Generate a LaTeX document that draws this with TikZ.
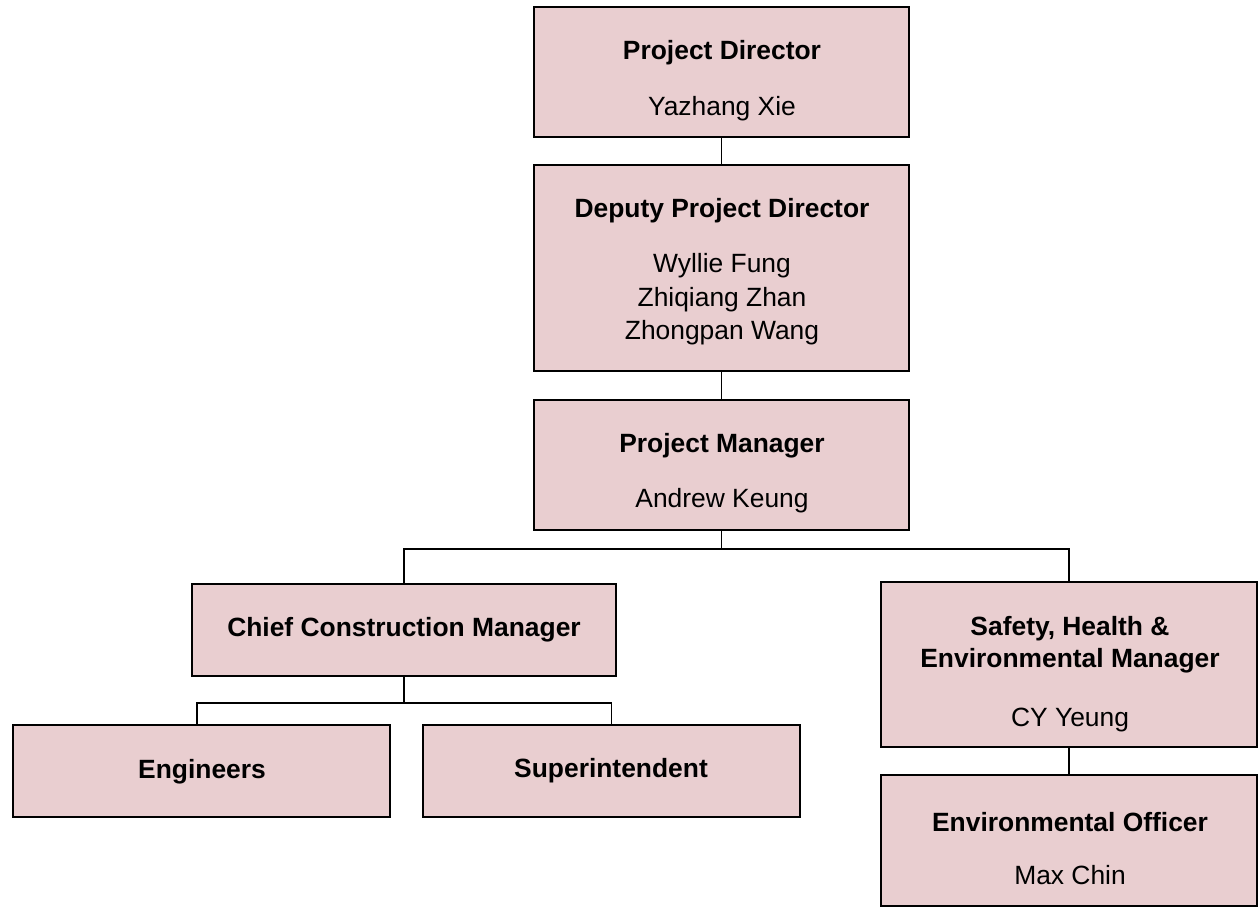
\documentclass[tikz,border=0pt]{standalone}
\usepackage{fontspec}
\setmainfont{Liberation Sans}
\definecolor{boxfill}{RGB}{233,206,208}
\begin{document}
\begin{tikzpicture}[x=0.75pt,y=-0.75pt,
  orgbox/.style={draw=black,fill=boxfill,line width=1.4pt,inner sep=0pt,rectangle},
  conn/.style={draw=black,line width=1.4pt},
  ttl/.style={anchor=base,inner sep=0pt,font=\fontsize{19.8}{25}\selectfont\bfseries},
  nm/.style={anchor=base,inner sep=0pt,font=\fontsize{19.8}{25}\selectfont}]
\useasboundingbox[fill=white] (0,0) rectangle (1259,910);

% boxes
\node[orgbox,minimum width=281.25pt,minimum height=97.5pt] (pd) at (721.5,72) {};
\node[orgbox,minimum width=281.25pt,minimum height=154.5pt] (dpd) at (721.5,268) {};
\node[orgbox,minimum width=281.25pt,minimum height=97.5pt] (pm) at (721.5,465) {};
\node[orgbox,minimum width=318pt,minimum height=69pt] (ccm) at (404,630) {};
\node[orgbox,minimum width=282pt,minimum height=123.75pt] (shem) at (1069,664.5) {};
\node[orgbox,minimum width=282.75pt,minimum height=69pt] (eng) at (201.5,771) {};
\node[orgbox,minimum width=282.75pt,minimum height=69pt] (sup) at (611.5,771) {};
\node[orgbox,minimum width=282pt,minimum height=98.25pt] (eo) at (1069,840.5) {};

% texts
\node[ttl] (pdt) at (722,59) {Project Director};
\node[nm] (pdn) at (722,115) {Yazhang Xie};
\node[ttl] (dpdt) at (722,217) {Deputy Project Director};
\node[nm] (dpdn1) at (722,272) {Wyllie Fung};
\node[nm] (dpdn2) at (722,306) {Zhiqiang Zhan};
\node[nm] (dpdn3) at (722,339) {Zhongpan Wang};
\node[ttl] (pmt) at (722,452) {Project Manager};
\node[nm] (pmn) at (722,507) {Andrew Keung};
\node[ttl] (ccmt) at (404,636) {Chief Construction Manager};
\node[ttl] (engt) at (202,778) {Engineers};
\node[ttl] (supt) at (611,777) {Superintendent};
\node[ttl] (shemt1) at (1070,635) {Safety, Health \&};
\node[ttl] (shemt2) at (1070,667) {Environmental Manager};
\node[nm] (shemn) at (1070,726) {CY Yeung};
\node[ttl] (eot) at (1070,831) {Environmental Officer};
\node[nm] (eon) at (1070,884) {Max Chin};

% connectors
\coordinate (j1) at (721.5,549);
\coordinate (j2) at (404,703);
\draw[conn] (pd.south) -- (dpd.north);
\draw[conn] (dpd.south) -- (pm.north);
\draw[conn] (pm.south) -- (j1);
\draw[conn] (j1) -| (ccm.north);
\draw[conn] (j1) -| (shem.north);
\draw[conn] (ccm.south) -- (j2);
\draw[conn] (j2) -| ([xshift=-3.4pt]eng.north);
\draw[conn] (j2) -| (sup.north);
\draw[conn] (shem.south) -- (eo.north);
\end{tikzpicture}
\end{document}
